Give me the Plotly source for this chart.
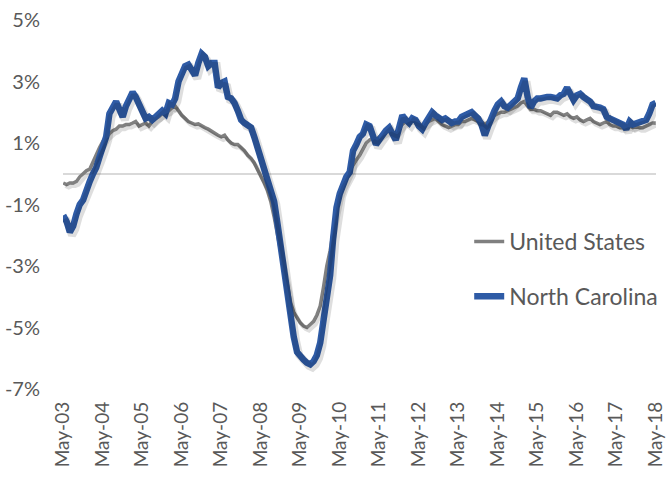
import pandas as pd
import plotly.graph_objects as go

# Monthly values, May-2003 .. May-2018 (percent, year-over-year)
months = pd.date_range("2003-05-01", "2018-05-01", freq="MS")

us_values = [
    -0.30, -0.35, -0.30, -0.30, -0.25, -0.10, 0.00, 0.10, 0.15, 0.40,
    0.60, 0.85, 1.05, 1.20, 1.30, 1.40, 1.45, 1.55, 1.55, 1.60,
    1.60, 1.65, 1.70, 1.55, 1.60, 1.65, 1.55, 1.70, 1.80, 1.85,
    1.95, 2.00, 2.05, 2.15, 2.20, 2.05, 1.90, 1.80, 1.70, 1.65,
    1.60, 1.62, 1.55, 1.50, 1.45, 1.38, 1.30, 1.25, 1.20, 1.25,
    1.10, 1.00, 0.95, 0.95, 0.85, 0.75, 0.60, 0.50, 0.35, 0.15,
    -0.05, -0.30, -0.55, -0.90, -1.40, -2.00, -2.60, -3.10, -3.60, -4.20,
    -4.50, -4.70, -4.85, -4.95, -5.00, -4.90, -4.80, -4.60, -4.30, -3.70,
    -3.00, -2.50, -1.80, -1.20, -0.70, -0.40, -0.15, 0.10, 0.30, 0.45,
    0.60, 0.80, 1.00, 1.10, 1.15, 1.10, 1.20, 1.30, 1.35, 1.40,
    1.35, 1.30, 1.45, 1.60, 1.70, 1.75, 1.75, 1.70, 1.65, 1.55,
    1.60, 1.70, 1.75, 1.80, 1.70, 1.60, 1.55, 1.50, 1.55, 1.60,
    1.60, 1.70, 1.70, 1.75, 1.80, 1.75, 1.70, 1.70, 1.60, 1.70,
    1.80, 1.90, 1.95, 2.00, 2.00, 2.05, 2.10, 2.15, 2.20, 2.30,
    2.35, 2.20, 2.10, 2.10, 2.05, 2.05, 2.00, 1.95, 1.90, 2.00,
    2.00, 1.95, 1.90, 1.95, 1.85, 1.80, 1.85, 1.75, 1.70, 1.75,
    1.80, 1.70, 1.65, 1.60, 1.65, 1.70, 1.60, 1.55, 1.55, 1.50,
    1.50, 1.55, 1.55, 1.50, 1.55, 1.50, 1.50, 1.55, 1.60, 1.65,
    1.65,
]

nc_values = [
    -1.35, -1.55, -1.90, -1.70, -1.30, -1.00, -0.85, -0.50, -0.25, 0.00,
    0.20, 0.55, 0.85, 1.20, 1.95, 2.20, 2.35, 2.10, 1.85, 2.20,
    2.45, 2.65, 2.50, 2.30, 2.00, 1.80, 1.85, 1.75, 1.85, 1.95,
    2.05, 1.95, 2.30, 2.25, 2.45, 3.00, 3.25, 3.50, 3.55, 3.40,
    3.20, 3.60, 3.90, 3.80, 3.50, 3.60, 3.60, 2.80, 2.95, 3.00,
    2.50, 2.45, 2.30, 2.05, 1.75, 1.65, 1.60, 1.50, 1.20, 0.85,
    0.40, 0.05, -0.25, -0.50, -0.90, -1.60, -2.40, -3.10, -3.80, -4.60,
    -5.30, -5.80, -5.95, -6.05, -6.15, -6.20, -6.10, -5.90, -5.50, -4.70,
    -4.00, -3.30, -2.10, -1.10, -0.65, -0.35, -0.10, 0.05, 0.75, 0.95,
    1.20, 1.30, 1.60, 1.55, 1.30, 0.95, 1.10, 1.30, 1.40, 1.50,
    1.30, 1.10, 1.50, 1.90, 1.75, 1.65, 1.80, 1.75, 1.55, 1.45,
    1.65, 1.85, 2.00, 1.90, 1.80, 1.75, 1.80, 1.75, 1.65, 1.70,
    1.70, 1.85, 1.90, 1.95, 2.00, 1.90, 1.80, 1.60, 1.25, 1.55,
    1.85, 2.05, 2.25, 2.35, 2.20, 2.15, 2.25, 2.35, 2.45, 2.80,
    3.10, 2.50, 2.15, 2.35, 2.45, 2.45, 2.50, 2.50, 2.50, 2.50,
    2.45, 2.55, 2.60, 2.80, 2.65, 2.40, 2.55, 2.60, 2.50, 2.45,
    2.35, 2.20, 2.20, 2.15, 2.10, 1.85, 1.80, 1.75, 1.75, 1.65,
    1.60, 1.45, 1.70, 1.60, 1.65, 1.65, 1.70, 1.75, 1.95, 2.25,
    2.30,
]

series_names = ["United States", "North Carolina"]
y_ticks = [-7, -5, -3, -1, 1, 3, 5]
y_tick_labels = ["-7%", "-5%", "-3%", "-1%", "1%", "3%", "5%"]
x_ticks = pd.date_range("2003-05-01", "2018-05-01", freq="12MS")
x_tick_labels = [d.strftime("%b-%y") for d in x_ticks]

US_COLOR = "#808080"
NC_COLOR = "#2E5BA6"
TEXT_COLOR = "#595959"
FONT = "Lato"

y_range = [-7, 5]
x_range = [months[0] - pd.Timedelta(days=2), months[-1] + pd.Timedelta(days=2)]

fig = go.Figure()

# soft shadows (same data, drawn on slightly shifted overlay axes)
shift_y = 0.10
shift_x = pd.Timedelta(days=20)
for vals, w in [(us_values, 4), (nc_values, 8)]:
    fig.add_trace(go.Scatter(
        x=months, y=vals, mode="lines", xaxis="x2", yaxis="y2",
        line=dict(color="rgba(0,0,0,0.13)", width=w), showlegend=False,
        hoverinfo="skip"))

fig.add_trace(go.Scatter(
    x=months, y=us_values, mode="lines", name=series_names[0],
    line=dict(color=US_COLOR, width=3.5), legendgroup="a"))
fig.add_trace(go.Scatter(
    x=months, y=nc_values, mode="lines", name=series_names[1],
    line=dict(color=NC_COLOR, width=6.5), legendgroup="b"))

fig.update_layout(
    width=666, height=480,
    margin=dict(l=63, r=10, t=20, b=91, autoexpand=False),
    paper_bgcolor="white", plot_bgcolor="white",
    font=dict(family=FONT, size=20, color=TEXT_COLOR),
    xaxis=dict(
        range=x_range, tickvals=list(x_ticks), ticktext=x_tick_labels,
        tickangle=-90, showgrid=False, zeroline=False, showline=False,
        ticks="", ticklabelstandoff=8, tickfont=dict(size=19),
        automargin=False, ticklabeloverflow="allow",
    ),
    yaxis=dict(
        range=y_range, tickvals=y_ticks, ticktext=y_tick_labels,
        showgrid=False, zeroline=True, zerolinecolor="#D9D9D9",
        zerolinewidth=1.5, showline=False, ticks="",
        ticklabelstandoff=22, tickfont=dict(size=20), automargin=False,
    ),
    xaxis2=dict(
        range=[x_range[0] - shift_x, x_range[1] - shift_x],
        overlaying="x", visible=False,
    ),
    yaxis2=dict(
        range=[y_range[0] + shift_y, y_range[1] + shift_y],
        overlaying="y", visible=False,
    ),
    legend=dict(
        x=0.685, y=0.458, xanchor="left", yanchor="top",
        bgcolor="rgba(0,0,0,0)", font=dict(size=23, color=TEXT_COLOR),
        tracegroupgap=22, itemwidth=30,
    ),
    showlegend=True,
)

fig.write_html("out.html", config={"displayModeBar": False},
               post_script="document.body.style.margin='0';")
